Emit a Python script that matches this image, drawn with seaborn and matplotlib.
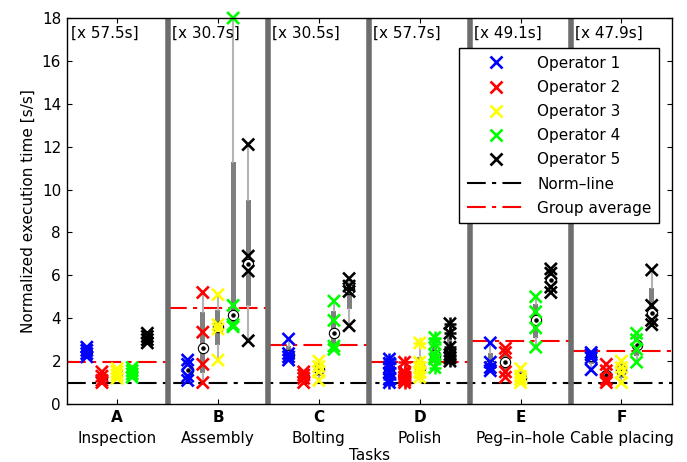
import numpy as np
import pandas as pd
import matplotlib
matplotlib.use("Agg")
import matplotlib.pyplot as plt
import matplotlib.transforms as mtransforms
from matplotlib.lines import Line2D
import seaborn as sns

# task letters, task names and time scale shown in the header of each group
letters = ["A", "B", "C", "D", "E", "F"]
tasks = ["Inspection", "Assembly", "Bolting", "Polish", "Peg\u2013in\u2013hole", "Cable placing"]
scales = ["[x 57.5s]", "[x 30.7s]", "[x 30.5s]", "[x 57.7s]", "[x 49.1s]", "[x 47.9s]"]
group_avg = [1.95, 4.5, 2.75, 1.95, 2.95, 2.45]
norm_value = 1.0

operators = ["Operator 1", "Operator 2", "Operator 3", "Operator 4", "Operator 5"]
op_colors = ["#0000ff", "#ff0000", "#ffff00", "#00ff00", "#000000"]

# normalized execution times per task, one list per operator
op1 = [[2.2, 2.35, 2.5, 2.65], [1.1, 1.3, 1.85, 2.05], [2.05, 2.2, 2.35, 3.03],
       [1.0, 1.15, 1.45, 1.7, 1.9, 2.1], [1.55, 1.7, 1.95, 2.85], [1.6, 2.15, 2.3, 2.4]]
op2 = [[1.0, 1.1, 1.3, 1.5], [1.0, 1.85, 3.35, 5.2], [1.0, 1.2, 1.35, 1.5],
       [1.0, 1.1, 1.25, 1.4, 1.5, 1.95], [1.25, 1.5, 2.4, 2.6], [1.0, 1.15, 1.55, 1.85]]
op3 = [[1.2, 1.35, 1.5, 1.65], [2.05, 3.5, 3.7, 5.1], [1.1, 1.5, 1.75, 2.0],
       [1.25, 1.5, 1.7, 1.95, 2.85], [1.0, 1.15, 1.3, 1.65], [1.0, 1.45, 1.7, 2.0]]
op4 = [[1.25, 1.4, 1.55, 1.7], [3.6, 3.7, 4.6, 18.0], [2.55, 2.7, 3.9, 4.8],
       [1.7, 2.1, 2.3, 2.8, 3.1], [2.65, 3.55, 4.3, 5.0], [1.95, 2.55, 3.0, 3.3]]
op5 = [[2.85, 3.0, 3.15, 3.3], [2.95, 6.2, 6.9, 12.1], [3.65, 5.25, 5.5, 5.85],
       [2.0, 2.15, 2.3, 2.65, 3.3, 3.75], [5.2, 5.45, 6.1, 6.3], [3.7, 3.9, 4.6, 6.25]]
all_ops = [op1, op2, op3, op4, op5]

offsets = [-0.3, -0.15, 0.0, 0.15, 0.3]

rows = []
for j, op in enumerate(all_ops):
    for i, vals in enumerate(op):
        for v in vals:
            rows.append({"task": letters[i], "operator": operators[j],
                         "pos": i + offsets[j], "value": v})
df = pd.DataFrame(rows)

sns.set_style("ticks")
plt.rcParams["font.family"] = ["DejaVu Sans"]
for k in ["text.color", "axes.labelcolor", "xtick.color", "ytick.color", "axes.edgecolor"]:
    plt.rcParams[k] = "black"

fig = plt.figure(figsize=(6.87, 4.62), dpi=100)
ax = fig.add_axes([0.097, 0.1255, 0.881, 0.8355])

# matlab style compact boxplots
stats = []
positions = []
for (task, op), g in df.groupby(["task", "operator"], sort=False):
    v = np.sort(g["value"].values)
    q1, med, q3 = np.percentile(v, [25, 50, 75], method="hazen")
    iqr = q3 - q1
    lo = v[v >= q1 - 1.5 * iqr].min()
    hi = v[v <= q3 + 1.5 * iqr].max()
    stats.append({"med": med, "q1": q1, "q3": q3, "whislo": lo, "whishi": hi, "fliers": []})
    positions.append(g["pos"].iloc[0])
ax.bxp(stats, positions=positions, widths=0.05, showcaps=False, showfliers=False,
       patch_artist=True, manage_ticks=False,
       boxprops=dict(facecolor="#808080", edgecolor="none"),
       whiskerprops=dict(color="#b4b4b4", linewidth=1.5),
       medianprops=dict(linewidth=0), zorder=2)
meds = pd.DataFrame({"pos": positions, "med": [s["med"] for s in stats]})
ax.scatter(meds["pos"], meds["med"], s=55, facecolor="white", edgecolor="black",
           linewidth=0.8, zorder=3)
ax.scatter(meds["pos"], meds["med"], s=5, color="black", zorder=3.5)

# trial markers
sns.scatterplot(data=df, x="pos", y="value", hue="operator", palette=op_colors,
                marker="x", s=75, linewidth=1.9, legend=False, ax=ax, zorder=4, clip_on=False)
sns.scatterplot(data=df[df["task"] == "D"], x="pos", y="value", hue="operator",
                palette=op_colors, marker="+", s=80, linewidth=1.8, legend=False, ax=ax, zorder=4)

# norm line and group averages
ax.axhline(norm_value, color="black", linestyle=(0, (9, 3, 2, 3)), linewidth=1.5, zorder=1)
for i, a in enumerate(group_avg):
    ax.hlines(a, i - 0.5, i + 0.5, color="red", linestyle=(0, (9, 3, 2, 3)), linewidth=1.5, zorder=1)

# separators between tasks
for i in range(1, len(letters)):
    ax.axvline(i - 0.5, color="#6e6e6e", linewidth=4, zorder=5)

for i, s in enumerate(scales):
    ax.text(i - 0.46, 17.65, s, fontsize=11, va="top", ha="left")

ax.set_xlim(-0.5, len(letters) - 0.5)
ax.set_ylim(0, 18)
ax.set_yticks(range(0, 19, 2))
ax.set_xticks(range(len(letters)))
ax.set_xticklabels(letters, fontsize=13, fontweight="bold")
ax.tick_params(direction="in", top=True, right=True, labelsize=11, pad=4)
trans = mtransforms.blended_transform_factory(ax.transData, ax.transAxes)
for i, t in enumerate(tasks):
    ax.text(i, -0.07, t, transform=trans, ha="center", va="top", fontsize=11)
ax.set_xlabel("Tasks", fontsize=11, labelpad=17)
ax.set_ylabel("Normalized execution time [s/s]", fontsize=11)
for sp in ax.spines.values():
    sp.set_linewidth(1.0)
    sp.set_zorder(6)

handles = [Line2D([], [], linestyle="none", marker="x", color=c, markersize=9, mew=1.9)
           for c in op_colors]
handles.append(Line2D([], [], color="black", linestyle=(0, (9, 3, 2, 3)), linewidth=1.5))
handles.append(Line2D([], [], color="red", linestyle=(0, (9, 3, 2, 3)), linewidth=1.5))
leg = ax.legend(handles, operators + ["Norm\u2013line", "Group average"], loc="upper right",
                bbox_to_anchor=(0.979, 0.922), borderaxespad=0, fontsize=11, frameon=True,
                fancybox=False, edgecolor="black", framealpha=1, handlelength=3.8,
                labelspacing=0.6, borderpad=0.5, handletextpad=0.8)
leg.get_frame().set_linewidth(1.0)
leg.set_zorder(7)

fig.savefig("out.png", dpi=100)
